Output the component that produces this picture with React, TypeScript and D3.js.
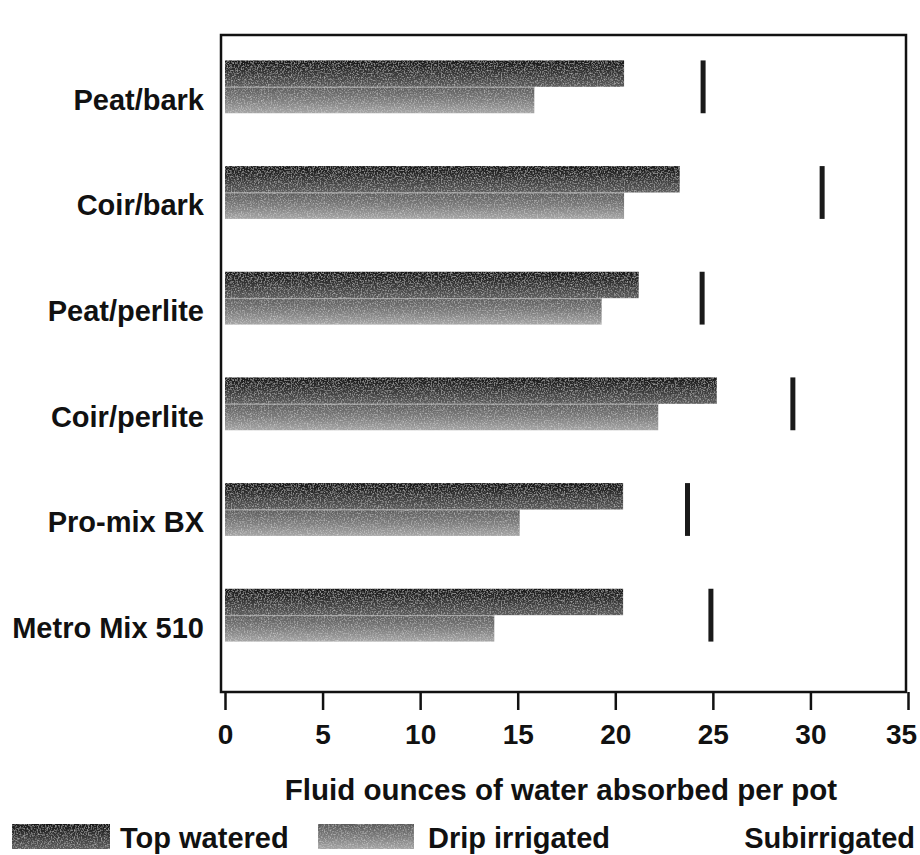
import { useEffect, useRef } from 'react';
import * as d3 from 'd3';

// media types, top to bottom
const categories = ['Peat/bark', 'Coir/bark', 'Peat/perlite', 'Coir/perlite', 'Pro-mix BX', 'Metro Mix 510'];
// fluid ounces absorbed per pot
const topWatered = [20.45, 23.3, 21.2, 25.2, 20.4, 20.4];
const dripIrrigated = [15.85, 20.45, 19.3, 22.2, 15.1, 13.8];
const subirrigated = [24.5, 30.6, 24.45, 29.1, 23.7, 24.9];
const xTicks = [0, 5, 10, 15, 20, 25, 30, 35];
const seriesNames = ['Top watered', 'Drip irrigated', 'Subirrigated'];
const axisTitle = 'Fluid ounces of water absorbed per pot';

const App = () => {
  const ref = useRef<HTMLDivElement>(null);

  useEffect(() => {
    d3.select(ref.current).selectAll('*').remove();

    const width = 920; const height = 855;
    const frame = { left: 221, right: 906, top: 35, bottom: 692 };
    const font = '"Liberation Sans", Arial, sans-serif';

    const x = d3.scaleLinear().domain([0, 35]).range([225, 908]);
    const y = d3.scaleBand().domain(categories).range([34, 668]).paddingInner(0.5).paddingOuter(0.25);
    const sub = d3.scaleBand().domain(['top', 'drip']).range([0, y.bandwidth()]);

    const svg = d3.select(ref.current)
      .append('svg')
      .attr('width', width)
      .attr('height', height)
      .style('position', 'absolute')
      .style('left', 0)
      .style('top', 0)
      .style('background', '#fff');

    const defs = svg.append('defs');

    const grad = (id: string, stops: [number, string][]) => {
      const g = defs.append('linearGradient').attr('id', id)
        .attr('x1', '0%').attr('y1', '0%').attr('x2', '0%').attr('y2', '100%');
      stops.forEach(([o, c]) => g.append('stop').attr('offset', `${o}%`).attr('stop-color', c));
    };
    grad('top-grad', [[0, '#161616'], [35, '#2e2e2e'], [100, '#5e5e5e']]);
    grad('drip-grad', [[0, '#5c5c5c'], [50, '#7c7c7c'], [100, '#a6a6a6']]);

    // grainy look of the printed bars
    const filter = defs.append('filter').attr('id', 'grain').attr('x', 0).attr('y', 0).attr('width', 1).attr('height', 1);
    filter.append('feTurbulence').attr('type', 'fractalNoise').attr('baseFrequency', 0.7)
      .attr('numOctaves', 2).attr('seed', 3).attr('result', 'noise');
    filter.append('feColorMatrix').attr('in', 'noise').attr('type', 'matrix')
      .attr('values', '0 0 0 0 1  0 0 0 0 1  0 0 0 0 1  0.9 0 0 0 -0.42').attr('result', 'specks');
    filter.append('feComposite').attr('in', 'specks').attr('in2', 'SourceGraphic').attr('operator', 'in').attr('result', 'clip');
    filter.append('feMerge').call(m => {
      m.append('feMergeNode').attr('in', 'SourceGraphic');
      m.append('feMergeNode').attr('in', 'clip');
    });

    // bars
    const groups = svg.selectAll('g.cat')
      .data(categories)
      .enter()
      .append('g')
      .attr('class', 'cat')
      .attr('transform', d => `translate(0, ${y(d)})`);

    groups.append('rect')
      .attr('x', x(0))
      .attr('y', sub('top')!)
      .attr('width', (d, i) => x(topWatered[i]) - x(0))
      .attr('height', sub.bandwidth())
      .attr('fill', 'url(#top-grad)')
      .attr('filter', 'url(#grain)');

    groups.append('rect')
      .attr('x', x(0))
      .attr('y', sub('drip')!)
      .attr('width', (d, i) => x(dripIrrigated[i]) - x(0))
      .attr('height', sub.bandwidth())
      .attr('fill', 'url(#drip-grad)')
      .attr('filter', 'url(#grain)');

    // faint light seam where the two bars meet
    groups.append('line')
      .attr('x1', x(0))
      .attr('x2', (d, i) => x(Math.min(topWatered[i], dripIrrigated[i])))
      .attr('y1', sub('drip')! + 0.5)
      .attr('y2', sub('drip')! + 0.5)
      .attr('stroke', '#d0d0d0')
      .attr('stroke-width', 1)
      .attr('opacity', 0.6);

    // subirrigated marker
    groups.append('line')
      .attr('x1', (d, i) => x(subirrigated[i]))
      .attr('x2', (d, i) => x(subirrigated[i]))
      .attr('y1', 0)
      .attr('y2', y.bandwidth())
      .attr('stroke', '#1a1a1a')
      .attr('stroke-width', 5);

    // category labels
    groups.append('text')
      .text(d => d)
      .attr('x', 204)
      .attr('y', y.bandwidth() / 2 + 23)
      .attr('text-anchor', 'end')
      .attr('font-family', font)
      .attr('font-weight', 'bold')
      .attr('font-size', 29)
      .attr('fill', '#111');

    // plot frame
    svg.append('rect')
      .attr('x', frame.left)
      .attr('y', frame.top)
      .attr('width', frame.right - frame.left)
      .attr('height', frame.bottom - frame.top)
      .attr('fill', 'none')
      .attr('stroke', '#111')
      .attr('stroke-width', 2.5);

    // x axis
    const axis = svg.append('g')
      .attr('transform', `translate(0, ${frame.bottom})`)
      .call(d3.axisBottom(x).tickValues(xTicks).tickSize(18).tickPadding(14).tickFormat(d3.format('d')));
    axis.select('.domain').remove();
    axis.selectAll('.tick line').attr('stroke', '#111').attr('stroke-width', 2.5);
    axis.selectAll('.tick text')
      .attr('font-family', font)
      .attr('font-weight', 'bold')
      .attr('font-size', 28)
      .attr('fill', '#111')
      .attr('dx', (d: any) => (d === 35 ? -7 : 0));

    svg.append('text')
      .text(axisTitle)
      .attr('x', 561)
      .attr('y', 800)
      .attr('text-anchor', 'middle')
      .attr('font-family', font)
      .attr('font-weight', 'bold')
      .attr('font-size', 29.5)
      .attr('fill', '#111');

    // legend
    const legend = [
      { label: seriesNames[0], fill: 'url(#top-grad)', sx: 12, sw: 98, tx: 120 },
      { label: seriesNames[1], fill: 'url(#drip-grad)', sx: 318, sw: 96, tx: 428 },
    ];
    legend.forEach(l => {
      svg.append('rect')
        .attr('x', l.sx).attr('y', 824).attr('width', l.sw).attr('height', 25)
        .attr('fill', l.fill)
        .attr('filter', 'url(#grain)');
      svg.append('text')
        .text(l.label)
        .attr('x', l.tx).attr('y', 848)
        .attr('font-family', font).attr('font-weight', 'bold').attr('font-size', 29).attr('fill', '#111');
    });
    svg.append('text')
      .text(seriesNames[2])
      .attr('x', 915).attr('y', 848)
      .attr('text-anchor', 'end')
      .attr('font-family', font).attr('font-weight', 'bold').attr('font-size', 29).attr('fill', '#111');
  }, []);

  return <div ref={ref}></div>;
};

export default App;
